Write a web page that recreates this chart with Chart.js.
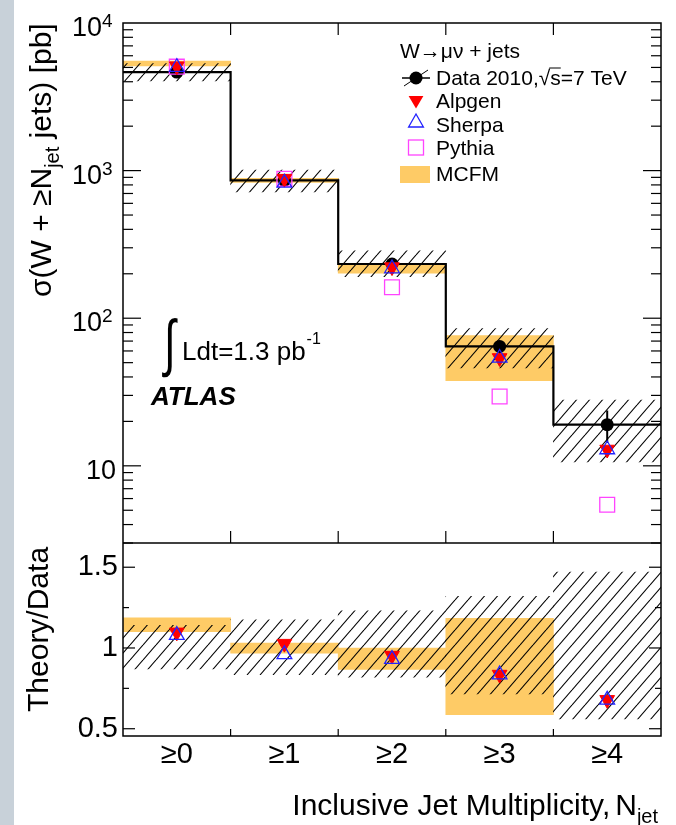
<!DOCTYPE html>
<html>
<head>
<meta charset="utf-8">
<script src="https://cdn.jsdelivr.net/npm/chart.js@4.4.1/dist/chart.umd.min.js"></script>
<style>
  body { margin: 0; background: #fff; }
</style>
</head>
<body>
<canvas id="myChart" width="676" height="825"></canvas>
<script>
const binLabels = ['≥0', '≥1', '≥2', '≥3', '≥4'];

// measured W+jets cross sections [pb] and statistical errors
const dataXsec = [4650, 859, 233, 64.4, 19.0];
const dataStat = [25, 9, 5, 3, 4.7];
// relative systematic uncertainty (hatched band)
const sysUp = [0.14, 0.175, 0.23, 0.32, 0.47];
const sysDown = [0.13, 0.165, 0.18, 0.285, 0.44];

// predictions [pb]
const alpgen = [5100, 882, 222, 53.8, 12.9];
const sherpa = [5020, 825, 217, 53.8, 12.9];
const pythia = [5060, 880, 162, 29.5, 5.45];
const mcfmLow = [5120, 831, 202, 37.8, null];
const mcfmHigh = [5520, 885, 233, 76.2, null];

const decadeTicks = [10, 100, 1000, 10000];
const ratioTicks = [0.5, 1, 1.5];

const FAM = "'Liberation Sans', Arial, Helvetica, sans-serif";
const ORANGE = '#fecb66';
const font = (size, style) => (style ? style + ' ' : '') + size + 'px ' + FAM;

const canvas = document.getElementById('myChart');
const ctx = canvas.getContext('2d');

//hatch pattern for the data uncertainty
function hatchPattern() {
    const w = 13, h = 15;
    const c = document.createElement('canvas');
    c.width = w; c.height = h;
    const g = c.getContext('2d');
    g.strokeStyle = '#000';
    g.lineWidth = 1.1;
    for (const dx of [-w, 0, w]) {
        g.beginPath();
        g.moveTo(dx, h);
        g.lineTo(dx + w, 0);
        g.stroke();
    }
    return ctx.createPattern(c, 'repeat');
}
const hatch = hatchPattern();

const ratio = (arr) => arr.map((v, i) => ({ x: i, y: v / dataXsec[i] }));
const points = (arr) => arr.map((v, i) => ({ x: i, y: v }));

// step outline of the measurement, from bin edge to bin edge
const stepLine = dataXsec.map((d, i) => ({ x: i - 0.5, y: d }));
stepLine.push({ x: dataXsec.length - 0.5, y: dataXsec[dataXsec.length - 1] });

const barOpts = { type: 'bar', barPercentage: 1, categoryPercentage: 1, grouped: false, borderWidth: 0 };
const alpgenStyle = { type: 'line', showLine: false, pointStyle: 'triangle', pointRotation: 180, pointRadius: 8.5,
    pointBackgroundColor: '#ff0000', pointBorderColor: '#ff0000', pointBorderWidth: 1 };
const sherpaStyle = { type: 'line', showLine: false, pointStyle: 'triangle', pointRadius: 8.5,
    pointBackgroundColor: 'rgba(0,0,0,0)', pointBorderColor: '#2222ff', pointBorderWidth: 1.3 };

const datasets = [
    // top panel
    { ...barOpts, label: 'MCFM', yAxisID: 'y', order: 20, backgroundColor: ORANGE,
      data: mcfmLow.map((lo, i) => ({ x: i, y: lo == null ? null : [lo, mcfmHigh[i]] })) },
    { ...barOpts, label: 'Syst', yAxisID: 'y', order: 19, backgroundColor: hatch,
      data: dataXsec.map((d, i) => ({ x: i, y: [d * (1 - sysDown[i]), d * (1 + sysUp[i])] })) },
    { type: 'line', label: 'Step', yAxisID: 'y', order: 18, data: stepLine, stepped: true,
      borderColor: '#000', borderWidth: 2.2, pointRadius: 0, fill: false },
    { type: 'line', label: 'Data', yAxisID: 'y', order: 17, showLine: false, data: points(dataXsec),
      pointStyle: 'circle', pointRadius: 6.5, pointBackgroundColor: '#000', pointBorderWidth: 0, errorBars: dataStat },
    { type: 'line', label: 'Pythia', yAxisID: 'y', order: 16, showLine: false, data: points(pythia),
      pointStyle: 'rect', pointRadius: 10.5, pointBackgroundColor: 'rgba(0,0,0,0)', pointBorderColor: '#ff44ff', pointBorderWidth: 1.3 },
    { ...alpgenStyle, label: 'Alpgen', yAxisID: 'y', order: 15, data: points(alpgen) },
    { ...sherpaStyle, label: 'Sherpa', yAxisID: 'y', order: 14, data: points(sherpa) },
    // ratio panel
    { ...barOpts, label: 'MCFM/Data', yAxisID: 'yr', order: 20, backgroundColor: ORANGE,
      data: mcfmLow.map((lo, i) => ({ x: i, y: lo == null ? null : [lo / dataXsec[i], mcfmHigh[i] / dataXsec[i]] })) },
    { ...barOpts, label: 'Syst/Data', yAxisID: 'yr', order: 19, backgroundColor: hatch,
      data: dataXsec.map((d, i) => ({ x: i, y: [1 - sysDown[i], 1 + sysUp[i]] })) },
    { ...alpgenStyle, label: 'Alpgen/Data', yAxisID: 'yr', order: 15, data: ratio(alpgen) },
    { ...sherpaStyle, label: 'Sherpa/Data', yAxisID: 'yr', order: 14, data: ratio(sherpa) }
];

function line(c, x1, y1, x2, y2) {
    c.beginPath();
    c.moveTo(x1, y1);
    c.lineTo(x2, y2);
    c.stroke();
}

//Plugin: background, error bars, frame with inward ticks, titles and legend.
const decor = {
    id: 'decor',
    beforeDraw(chart) {
        const c = chart.ctx;
        c.save();
        c.fillStyle = '#fff';
        c.fillRect(0, 0, chart.width, chart.height);
        c.fillStyle = '#c8d1d9';
        c.fillRect(0, 0, 14, chart.height);
        c.restore();
    },
    beforeDatasetDraw(chart, args) {
        const ds = chart.data.datasets[args.index];
        if (!ds.errorBars) return;
        const c = chart.ctx, xs = chart.scales.x, ys = chart.scales[ds.yAxisID];
        c.save();
        c.strokeStyle = '#000';
        c.lineWidth = 2;
        ds.errorBars.forEach((e, i) => {
            const x = xs.getPixelForValue(i);
            line(c, x, ys.getPixelForValue(dataXsec[i] - e), x, ys.getPixelForValue(dataXsec[i] + e));
        });
        c.restore();
    },
    afterDraw(chart) {
        const c = chart.ctx;
        const xs = chart.scales.x, ys = chart.scales.y, rs = chart.scales.yr;
        const L = chart.chartArea.left, R = chart.chartArea.right;
        const T = ys.top, M = ys.bottom, B = rs.bottom;
        c.save();
        c.strokeStyle = '#000';
        c.lineWidth = 1.5;
        c.strokeRect(L, T, R - L, B - T);
        line(c, L, M, R, M);

        c.lineWidth = 1.2;
        // log axis ticks
        for (let e = 0; e < 4; e++) {
            for (let m = 1; m < 10; m++) {
                const v = m * Math.pow(10, e);
                if (v < ys.min || v > ys.max) continue;
                const y = ys.getPixelForValue(v);
                const len = m === 1 ? 18 : 10;
                line(c, L, y, L + len, y);
                line(c, R, y, R - len, y);
            }
        }
        // ratio axis ticks, minor ones halfway
        ratioTicks.forEach((v, k) => {
            const y = rs.getPixelForValue(v);
            line(c, L, y, L + 12, y);
            line(c, R, y, R - 12, y);
            if (k > 0) {
                const ym = rs.getPixelForValue((v + ratioTicks[k - 1]) / 2);
                line(c, L, ym, L + 6, ym);
                line(c, R, ym, R - 6, ym);
            }
        });
        // bin edges
        for (let k = 0; k < binLabels.length - 1; k++) {
            const x = xs.getPixelForValue(k + 0.5);
            line(c, x, T, x, T + 12);
            line(c, x, M, x, M - 12);
            line(c, x, B, x, B - 7);
        }

        c.fillStyle = '#000';
        c.textBaseline = 'alphabetic';

        // decade labels with raised exponent
        decadeTicks.forEach((v) => {
            const y = ys.getPixelForValue(v);
            const e = Math.round(Math.log10(v));
            c.font = font(27);
            c.textAlign = 'right';
            if (e === 1) {
                c.fillText('10', 116, y + 13);
            } else {
                c.fillText('10', 102, y + 13);
                c.font = font(19);
                c.textAlign = 'left';
                c.fillText(String(e), 102, y + 4);
            }
        });
        c.textAlign = 'left';

        // y title, top panel
        c.save();
        c.translate(51, 297);
        c.rotate(-Math.PI / 2);
        let x = 0;
        c.font = font(30);
        c.fillText('σ(W + ≥N', x, 0);
        x += c.measureText('σ(W + ≥N').width;
        c.font = font(20);
        c.fillText('jet', x, 8);
        x += c.measureText('jet').width;
        c.font = font(30);
        c.fillText(' jets) [pb]', x, 0);
        c.restore();

        // y title, ratio panel
        c.save();
        c.translate(48, 712);
        c.rotate(-Math.PI / 2);
        c.font = font(30);
        c.fillText('Theory/Data', 0, 0);
        c.restore();

        // x title, right aligned
        c.font = font(30);
        const t1 = 'Inclusive Jet Multiplicity,';
        const w1 = c.measureText(t1).width;
        const wN = c.measureText('N').width;
        c.font = font(20);
        const wj = c.measureText('jet').width;
        let x0 = 658 - wj - wN - 5 - w1;
        c.font = font(30);
        c.fillText(t1, x0, 815);
        c.fillText('N', x0 + w1 + 5, 815);
        c.font = font(20);
        c.fillText('jet', x0 + w1 + 5 + wN, 823);

        // luminosity and experiment label
        c.save();
        c.font = font(44);
        c.translate(164, 364);
        c.scale(0.95, 1.42);
        c.fillText('∫', 0, 0);
        c.restore();
        c.font = font(26);
        c.fillText('Ldt=1.3 pb', 182, 360);
        const wl = c.measureText('Ldt=1.3 pb').width;
        c.font = font(16);
        c.fillText('-1', 182 + wl + 1, 344);
        c.font = font(26, 'italic bold');
        c.fillText('ATLAS', 151, 405);

        // legend
        c.font = font(21);
        c.fillText('W→μν + jets', 400, 58);
        const tx = 436, mx = 416;
        c.fillText('Data 2010,', tx, 85);
        let xx = tx + c.measureText('Data 2010,').width;
        c.fillText('√', xx, 85);
        xx += c.measureText('√').width;
        c.lineWidth = 1;
        line(c, xx - 1, 68, xx + c.measureText('s').width, 68);
        c.fillText('s=7 TeV', xx, 85);
        c.fillText('Alpgen', tx, 108);
        c.fillText('Sherpa', tx, 131.5);
        c.fillText('Pythia', tx, 155);
        c.fillText('MCFM', tx, 181);

        // legend markers
        c.lineWidth = 1.5;
        line(c, 402, 78, 430, 78);
        c.lineWidth = 1;
        line(c, 404, 86, 428, 70);
        c.beginPath();
        c.arc(mx, 78, 6.5, 0, Math.PI * 2);
        c.fill();
        c.fillStyle = '#ff0000';
        c.beginPath();
        c.moveTo(mx - 7.4, 96); c.lineTo(mx + 7.4, 96); c.lineTo(mx, 108.5);
        c.closePath();
        c.fill();
        c.strokeStyle = '#2222ff';
        c.lineWidth = 1.3;
        c.beginPath();
        c.moveTo(mx, 114); c.lineTo(mx + 7.4, 127); c.lineTo(mx - 7.4, 127);
        c.closePath();
        c.stroke();
        c.strokeStyle = '#ff44ff';
        c.strokeRect(mx - 7.5, 140, 15, 15);
        c.fillStyle = ORANGE;
        c.fillRect(400, 166, 30, 17);
        c.restore();
    }
};

const tickFont = { family: FAM, size: 29 };

new Chart(ctx, {
    type: 'bar',
    data: { datasets: datasets },
    options: {
        responsive: false,
        devicePixelRatio: 1,
        animation: false,
        layout: { padding: { top: 23, right: 15, left: 0, bottom: 0 } },
        plugins: { legend: { display: false }, tooltip: { enabled: false } },
        scales: {
            x: {
                type: 'linear', min: -0.5, max: 4.5, offset: false,
                afterBuildTicks: (s) => { s.ticks = binLabels.map((_, i) => ({ value: i })); },
                afterFit: (s) => { s.height = 89; },
                ticks: { callback: (v) => binLabels[v], font: tickFont, color: '#000', padding: 2, maxRotation: 0, autoSkip: false },
                grid: { display: false, drawTicks: false },
                border: { display: false }
            },
            // the ratio panel is listed first so that the layout puts it below
            yr: {
                type: 'linear', position: 'left', stack: 'panels', stackWeight: 193,
                min: 0.455, max: 1.65,
                afterBuildTicks: (s) => { s.ticks = ratioTicks.map((v) => ({ value: v })); },
                afterFit: (s) => { s.width = 123; },
                ticks: { callback: (v) => String(v), font: tickFont, color: '#000', padding: 5 },
                grid: { display: false, drawTicks: false },
                border: { display: false }
            },
            y: {
                type: 'logarithmic', position: 'left', stack: 'panels', stackWeight: 520,
                min: 3, max: 10000,
                afterBuildTicks: (s) => { s.ticks = decadeTicks.map((v) => ({ value: v })); },
                afterFit: (s) => { s.width = 123; },
                // decade labels are drawn by the plugin, with a raised exponent
                ticks: { display: false },
                grid: { display: false, drawTicks: false },
                border: { display: false }
            }
        }
    },
    plugins: [decor]
});
</script>
</body>
</html>
